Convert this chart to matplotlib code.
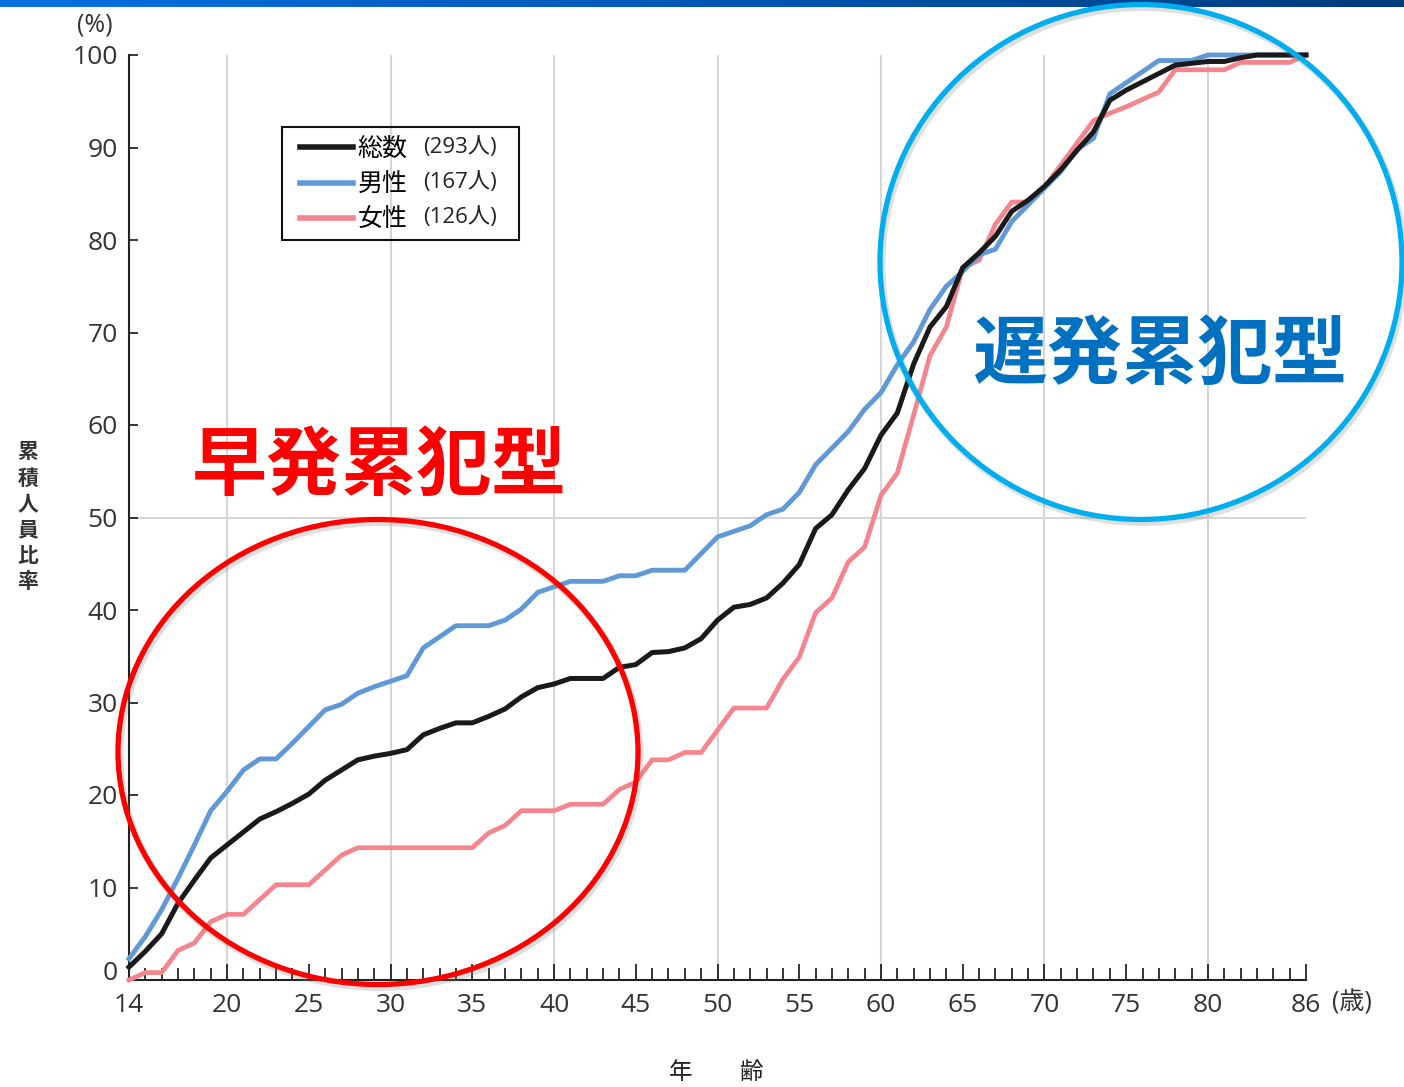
import matplotlib
matplotlib.use('Agg')
import matplotlib.pyplot as plt
from matplotlib.patches import Ellipse, Rectangle
from matplotlib.colors import LinearSegmentedColormap
import numpy as np

plt.rcParams['font.family'] = ['Open Sans', 'Noto Sans CJK JP', 'DejaVu Sans']

# cumulative share (%) by age
ages = list(range(14, 87))
total = [1.4, 3.1, 5.0, 8.3, 10.8, 13.2, 14.6, 16.0, 17.4, 18.2,
         19.1, 20.1, 21.6, 22.7, 23.8, 24.2, 24.5, 24.9, 26.5, 27.2,
         27.8, 27.8, 28.5, 29.3, 30.6, 31.6, 32.0, 32.6, 32.6, 32.6,
         33.8, 34.1, 35.4, 35.5, 35.9, 36.9, 38.9, 40.3, 40.6, 41.3,
         42.9, 44.9, 48.8, 50.3, 53.0, 55.3, 58.9, 61.3, 66.6, 70.6,
         72.8, 77.0, 78.6, 80.4, 83.1, 84.3, 85.8, 87.6, 89.7, 91.7,
         95.1, 96.2, 97.1, 98.0, 98.9, 99.1, 99.3, 99.3, 99.7, 100.0,
         100.0, 100.0, 100.0]
male = [2.3, 4.7, 7.6, 11.0, 14.6, 18.3, 20.4, 22.7, 23.9, 23.9,
        25.6, 27.4, 29.2, 29.8, 31.0, 31.7, 32.3, 32.9, 35.9, 37.1,
        38.3, 38.3, 38.3, 38.9, 40.1, 41.9, 42.5, 43.1, 43.1, 43.1,
        43.7, 43.7, 44.3, 44.3, 44.3, 46.1, 47.9, 48.5, 49.1, 50.3,
        50.9, 52.7, 55.7, 57.5, 59.3, 61.7, 63.5, 66.5, 69.0, 72.5,
        75.0, 76.6, 78.4, 79.0, 82.0, 83.8, 85.6, 87.4, 89.8, 91.0,
        95.8, 97.0, 98.2, 99.4, 99.4, 99.4, 100.0, 100.0, 100.0, 100.0,
        100.0, 100.0, 100.0]
female = [0.0, 0.8, 0.8, 3.2, 4.0, 6.3, 7.1, 7.1, 8.7, 10.3,
          10.3, 10.3, 11.9, 13.5, 14.3, 14.3, 14.3, 14.3, 14.3, 14.3,
          14.3, 14.3, 15.9, 16.7, 18.3, 18.3, 18.3, 19.0, 19.0, 19.0,
          20.6, 21.4, 23.8, 23.8, 24.6, 24.6, 27.0, 29.4, 29.4, 29.4,
          32.5, 34.9, 39.7, 41.3, 45.2, 46.8, 52.4, 54.8, 61.1, 67.5,
          70.6, 77.0, 77.8, 81.7, 84.1, 84.1, 85.7, 88.1, 90.5, 92.9,
          93.7, 94.4, 95.2, 96.0, 98.4, 98.4, 98.4, 98.4, 99.2, 99.2,
          99.2, 99.2, 100.0]
names = ['総数', '男性', '女性']
counts = ['(293人)', '(167人)', '(126人)']
x_major = [14, 20, 25, 30, 35, 40, 45, 50, 55, 60, 65, 70, 75, 80, 86]
y_ticks = list(range(0, 101, 10))

W, H = 1404, 1087
def fx(px):
    return px / W
def fy(py):
    return 1 - py / H

fig = plt.figure(figsize=(W / 100, H / 100), dpi=100)
ax = fig.add_axes([fx(129), fy(980), (1306 - 129) / W, (980 - 55) / H])

for g in [20, 30, 40, 50, 60, 70, 80]:
    ax.axvline(g, color='#d6d6d6', lw=1.5, zorder=0)
ax.axhline(50, color='#d6d6d6', lw=1.5, zorder=0)

l_f, = ax.plot(ages, female, color='#F4858E', lw=3.4, clip_on=False, zorder=3)
l_m, = ax.plot(ages, male, color='#6199D6', lw=3.5, clip_on=False, zorder=4)
l_t, = ax.plot(ages, total, color='#1a1a1a', lw=3.6, clip_on=False, zorder=5)

ax.set_xlim(14, 86)
ax.set_ylim(0, 100)
for s in ['top', 'right']:
    ax.spines[s].set_visible(False)
for s in ['left', 'bottom']:
    ax.spines[s].set_linewidth(1.5)
    ax.spines[s].set_color('#222222')

ax.set_xticks(x_major)
ax.set_xticks(ages, minor=True)
ax.set_yticks(y_ticks)
ax.set_yticklabels([''] + [str(v) for v in y_ticks[1:]])
ax.tick_params(axis='x', which='major', direction='in', length=11.5, width=1.1,
               pad=9, labelsize=19, labelcolor='#333333')
ax.tick_params(axis='x', which='minor', direction='in', length=8.5, width=1.1)
ax.tick_params(axis='y', direction='in', length=6.5, width=1.1, pad=8,
               labelsize=19, labelcolor='#333333')

fig.text(fx(118), fy(973), '0', fontsize=19, color='#333333', ha='right', va='center')
fig.text(fx(95), fy(25), '(%)', fontsize=18, color='#333333', ha='center', va='center')
fig.text(fx(1352), fy(1003), '(歳)', fontsize=18, color='#333333', ha='center', va='center')
fig.text(fx(716), fy(1073), '年　　齢', fontsize=17, color='#222222', ha='center', va='center')
for i, ch in enumerate('累積人員比率'):
    fig.text(fx(28), fy(453 + i * 26), ch, fontsize=15, fontweight='bold',
             color='#333333', ha='center', va='center')

# legend: handles + names from matplotlib, counts in smaller type, drawn frame
leg = ax.legend([l_t, l_m, l_f], names, loc='upper left',
                bbox_to_anchor=(fx(300), fy(137)), bbox_transform=fig.transFigure,
                fontsize=18, frameon=False, handlelength=2.1, handletextpad=0.2,
                borderpad=0, labelspacing=0.42, borderaxespad=0)
for line in leg.get_lines():
    line.set_linewidth(4)
for i, c in enumerate(counts):
    fig.text(fx(423), fy(148 + i * 35), c, fontsize=16, color='#222222',
             ha='left', va='center')
fig.add_artist(Rectangle((fx(282), fy(240)), (519 - 282) / W, (240 - 127) / H,
                         transform=fig.transFigure, fill=False,
                         edgecolor='#111111', lw=1.5))

# highlighted groups, with a soft shadow under each ring
rings = [((378, 752), (520, 465), '#FF0000'), ((1141, 262), (522, 515), '#00AEEF')]
for (cx, cy), (w, h), col in rings:
    fig.add_artist(Ellipse((fx(cx + 2), fy(cy + 3)), w / W, h / H,
                           transform=fig.transFigure, fill=False,
                           edgecolor='#808080', alpha=0.25, lw=5, zorder=9))
    fig.add_artist(Ellipse((fx(cx), fy(cy)), w / W, h / H,
                           transform=fig.transFigure, fill=False,
                           edgecolor=col, lw=3.8, zorder=10))
fig.text(fx(379), fy(469), '早発累犯型', fontsize=54, fontweight='bold',
         color='#FF0000', ha='center', va='center')
fig.text(fx(1160), fy(358), '遅発累犯型', fontsize=54, fontweight='bold',
         color='#0070C0', ha='center', va='center')

# top banner strip
bar = fig.add_axes([0, fy(7), 1, 7 / H])
bar.imshow(np.linspace(0, 1, 256).reshape(1, -1), aspect='auto',
           cmap=LinearSegmentedColormap.from_list('bar', ['#0A70E0', '#0058B4', '#003C7E']))
bar.axis('off')

fig.savefig('out.png', dpi=100)
